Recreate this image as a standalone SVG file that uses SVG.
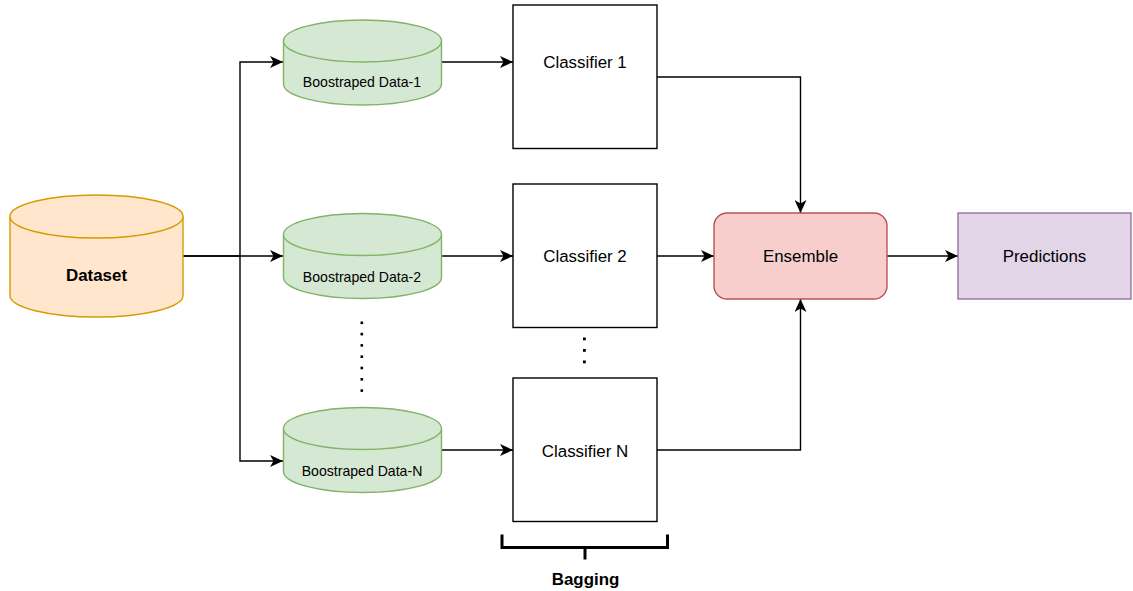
<svg xmlns="http://www.w3.org/2000/svg" width="1133" height="591" viewBox="0 0 1133 591">
  <style>
    .lbl { font-family: "Liberation Sans", Arial, sans-serif; font-size: 16.9px; fill: #000; text-anchor: middle; dominant-baseline: central; }
    .bold { font-weight: bold; }
    .small { font-size: 14.1px; }
    .edge { fill: none; stroke: #000; stroke-width: 1.4; }
    .box { fill: #fff; stroke: #000; stroke-width: 1.4; }
    .orange { fill: #ffe6cc; stroke: #d79b00; stroke-width: 1.4; }
    .green { fill: #d5e8d4; stroke: #82b366; stroke-width: 1.4; }
    .dot { fill: #000; }
  </style>
  <defs>
    <marker id="arrow" markerUnits="userSpaceOnUse" markerWidth="14" markerHeight="12" refX="13" refY="6" orient="auto">
      <path d="M0,0 L13,6 L0,12 L3.5,6 Z" fill="#000"/>
    </marker>
  </defs>

  <!-- connectors -->
  <g id="connectors">
    <path class="edge" d="M183,256 H240"/>
    <path class="edge" d="M183,256 H283" marker-end="url(#arrow)"/>
    <path class="edge" d="M240,256 V62 H283" marker-end="url(#arrow)"/>
    <path class="edge" d="M240,256 V461 H283" marker-end="url(#arrow)"/>
    <path class="edge" d="M441,62 H513" marker-end="url(#arrow)"/>
    <path class="edge" d="M441,256 H513" marker-end="url(#arrow)"/>
    <path class="edge" d="M441,450 H513" marker-end="url(#arrow)"/>
    <path class="edge" d="M657,77 H800.5 V213" marker-end="url(#arrow)"/>
    <path class="edge" d="M657,256 H714" marker-end="url(#arrow)"/>
    <path class="edge" d="M657,450 H800.5 V299" marker-end="url(#arrow)"/>
    <path class="edge" d="M887,256 H958" marker-end="url(#arrow)"/>
  </g>

  <!-- source dataset -->
  <g id="dataset">
    <path class="orange" d="M10,216.5 A86.5,21.5 0 0 1 183,216.5 V295.5 A86.5,21.5 0 0 1 10,295.5 Z"/>
    <path class="orange" fill="none" d="M10,216.5 A86.5,21.5 0 0 0 183,216.5"/>
    <text class="lbl bold" x="96.5" y="275">Dataset</text>
  </g>

  <!-- bootstrap samples -->
  <g id="boot1">
    <path class="green" d="M283.5,41 A79,21 0 0 1 441.5,41 V84 A79,21 0 0 1 283.5,84 Z"/>
    <path class="green" d="M283.5,41 A79,21 0 0 0 441.5,41"/>
    <text class="lbl small" x="362" y="82">Boostraped Data-1</text>
  </g>
  <g id="boot2">
    <path class="green" d="M283.5,234.5 A79,21 0 0 1 441.5,234.5 V277.5 A79,21 0 0 1 283.5,277.5 Z"/>
    <path class="green" d="M283.5,234.5 A79,21 0 0 0 441.5,234.5"/>
    <text class="lbl small" x="362" y="276.5">Boostraped Data-2</text>
  </g>
  <g id="bootN">
    <path class="green" d="M283.5,428.5 A79,21 0 0 1 441.5,428.5 V471.5 A79,21 0 0 1 283.5,471.5 Z"/>
    <path class="green" d="M283.5,428.5 A79,21 0 0 0 441.5,428.5"/>
    <text class="lbl small" x="362" y="470.5">Boostraped Data-N</text>
  </g>
  <g id="boot-ellipsis">
    <rect class="dot" x="360.5" y="321.5" width="2.6" height="2.6"/>
    <rect class="dot" x="360.5" y="332.8" width="2.6" height="2.6"/>
    <rect class="dot" x="360.5" y="344.1" width="2.6" height="2.6"/>
    <rect class="dot" x="360.5" y="355.4" width="2.6" height="2.6"/>
    <rect class="dot" x="360.5" y="366.7" width="2.6" height="2.6"/>
    <rect class="dot" x="360.5" y="378" width="2.6" height="2.6"/>
    <rect class="dot" x="360.5" y="389.3" width="2.6" height="2.6"/>
  </g>

  <!-- classifiers -->
  <g id="clf1">
    <rect class="box" x="513" y="5" width="144" height="143.5"/>
    <text class="lbl" x="585" y="62">Classifier 1</text>
  </g>
  <g id="clf2">
    <rect class="box" x="513" y="184" width="144" height="143.5"/>
    <text class="lbl" x="585" y="256">Classifier 2</text>
  </g>
  <g id="clfN">
    <rect class="box" x="513" y="378" width="144" height="143.5"/>
    <text class="lbl" x="585" y="451">Classifier N</text>
  </g>
  <g id="clf-ellipsis">
    <rect class="dot" x="583" y="337.5" width="2.8" height="2.8"/>
    <rect class="dot" x="583" y="349" width="2.8" height="2.8"/>
    <rect class="dot" x="583" y="360.5" width="2.8" height="2.8"/>
  </g>

  <!-- bagging bracket -->
  <g id="bagging">
    <path fill="none" stroke="#000" stroke-width="3" d="M502,534.5 V547.5 H667.5 V534.5"/>
    <path fill="none" stroke="#000" stroke-width="3" d="M585,547.5 V559.5"/>
    <text class="lbl bold" x="585.5" y="579">Bagging</text>
  </g>

  <!-- aggregation -->
  <g id="ensemble">
    <rect x="714" y="213" width="173" height="86" rx="13" fill="#f8cecc" stroke="#b85450" stroke-width="1.4"/>
    <text class="lbl" x="800.5" y="256">Ensemble</text>
  </g>
  <g id="predictions">
    <rect x="958" y="213" width="173" height="86" fill="#e1d5e7" stroke="#9673a6" stroke-width="1.4"/>
    <text class="lbl" x="1044.5" y="256">Predictions</text>
  </g>
</svg>
